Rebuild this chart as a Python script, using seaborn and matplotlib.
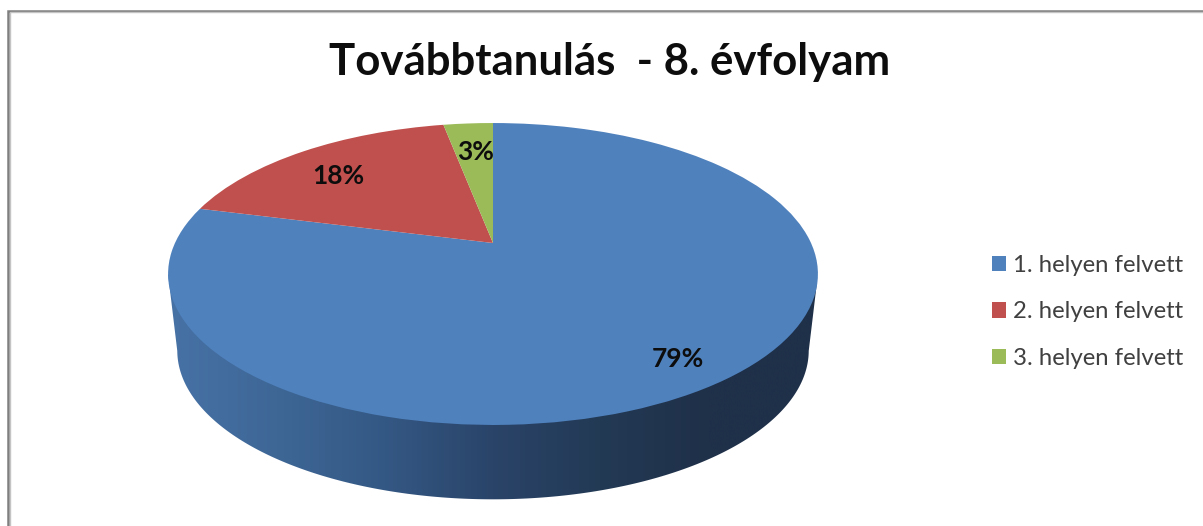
import numpy as np
import matplotlib
matplotlib.use("Agg")
import matplotlib.pyplot as plt
import seaborn as sns
from matplotlib.colors import LinearSegmentedColormap
from matplotlib.patches import Polygon
from matplotlib.transforms import Affine2D, Transform

title = "Továbbtanulás  - 8. évfolyam"
categories = ["1. helyen felvett", "2. helyen felvett", "3. helyen felvett"]
shares = [79, 18, 3]
slice_colors = ["#4F81BD", "#C0504D", "#9BBB59"]
wall_colors = ["#4772A6", "#3E6796", "#345884", "#2A4469", "#233A55", "#1F3049", "#1F3049"]

sns.set_theme(style="white")
plt.rcParams["font.family"] = ["Lato", "DejaVu Sans"]


class Tilted(Transform):
    """Perspective view of the unit pie, in pixel coordinates."""
    input_dims = output_dims = 2

    def __init__(self, cx, cy, bx, a, c):
        super().__init__()
        self.p = (cx, cy, bx, a, c)

    def transform_non_affine(self, values):
        cx, cy, bx, a, c = self.p
        values = np.asarray(values, dtype=float)
        d = 1 + c * values[:, 1]
        return np.column_stack([cx + bx * values[:, 0] / d, cy - a * values[:, 1] / d])


fig, ax = plt.subplots(figsize=(12.03, 5.26), dpi=100)
fig.subplots_adjust(0, 0, 1, 1)

top = Tilted(493, 243, 318, 144.6, 0.2053)
bottom = Tilted(493, 320, 309, 142.5, 0.2053)

wedges, _, pct_texts = ax.pie(
    shares, colors=sns.color_palette(slice_colors), startangle=90, counterclock=False,
    autopct="%d%%", pctdistance=0.81,
    textprops=dict(fontsize=19, fontweight="bold", color="#0d0d0d"),
    wedgeprops=dict(linewidth=0),
)
ax.set_aspect("auto")
ax.set_xlim(0, 1203)
ax.set_ylim(526, 0)
ax.set_xticks([])
ax.set_yticks([])
ax.set_frame_on(False)

for w in wedges:
    w.set_transform(top + ax.transData)
    w.set_zorder(3)
    w.set_clip_on(False)
for t in pct_texts:
    t.set_transform(top + Affine2D().translate(3, 9) + ax.transData)
    t.set_zorder(4)

# side wall of the disc
ang = np.linspace(0, 2 * np.pi, 721)
circ = np.column_stack([np.cos(ang), np.sin(ang)])
pt = top.transform(circ)
pb = bottom.transform(circ)
lo = pb[pb[:, 1] >= pb[np.argmin(pb[:, 0]), 1]]
lo = lo[np.argsort(lo[:, 0])]
wall_pts = np.vstack([[pt[np.argmin(pt[:, 0])]], lo, [pt[np.argmax(pt[:, 0])]], [[493, 243]]])
cmap = LinearSegmentedColormap.from_list("wall", wall_colors)
img = ax.imshow(np.linspace(0, 1, 256)[None, :], cmap=cmap, aspect="auto",
                extent=(168, 817, 526, 100), zorder=2)
clip = Polygon(wall_pts, closed=True, transform=ax.transData, facecolor="none", edgecolor="none")
ax.add_patch(clip)
img.set_clip_path(clip)
ax.set_xlim(0, 1203)
ax.set_ylim(526, 0)

ax.set_title(title, x=610 / 1203, y=1 - 62 / 526, va="center", fontsize=31.5,
             fontweight="bold", color="#0d0d0d", pad=0)

ax.legend(wedges, categories, loc="center left", bbox_to_anchor=(992 / 1203, 1 - 312 / 526),
          frameon=False, fontsize=17.2, labelcolor="#404040", handlelength=0.6, handleheight=0.6,
          handletextpad=0.26, labelspacing=1.07, borderpad=0, borderaxespad=0)

# chart frame
ax.plot([7.5, 7.5, 1203], [526, 10.5, 10.5], color="#7f7f7f", lw=1.8, solid_joinstyle="miter", zorder=5)
ax.plot([9.5, 9.5, 1203], [526, 12.3, 12.3], color="#c4c4c4", lw=1.0, solid_joinstyle="miter", zorder=5)

fig.savefig("out.png", dpi=100, facecolor="white")
